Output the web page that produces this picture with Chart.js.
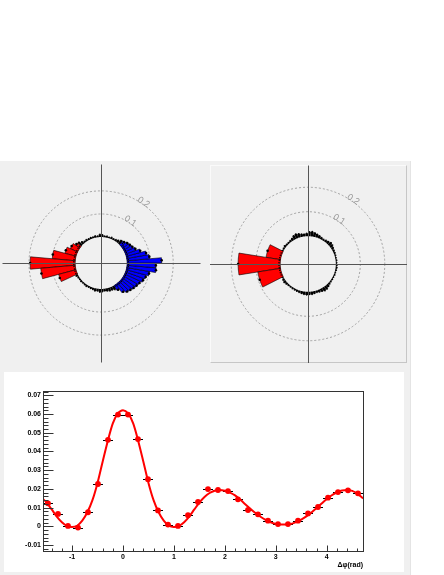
<!DOCTYPE html>
<html><head><meta charset="utf-8">
<script src="https://cdn.jsdelivr.net/npm/chart.js@4.4.0/dist/chart.umd.min.js"></script>
<style>
html,body{margin:0;padding:0;background:#fff;width:444px;height:575px;overflow:hidden;position:relative;font-family:"Liberation Sans",Arial,sans-serif}
.abs{position:absolute}
#bg{left:0;top:161px;width:410px;height:414px;background:#f0f0f0;border-right:1px solid #e4e4e4}
#rp{left:210px;top:165px;width:195px;height:196px;background:#f0f0f0;border:1px solid;border-color:#fafafa #c6c6c6 #c6c6c6 #fafafa}
#bp{left:4px;top:372px;width:400px;height:200px;background:#fff}
canvas{position:absolute}
</style></head><body>
<div id="bg" class="abs"></div>
<div id="rp" class="abs"></div>
<div id="bp" class="abs"></div>
<canvas id="c1" width="208" height="204" style="left:0;top:161px"></canvas>
<canvas id="c2" width="197" height="198" style="left:210px;top:165px"></canvas>
<canvas id="c3" width="400" height="200" style="left:4px;top:372px"></canvas>
<script>
// ---------------- DATA ----------------
// polar histograms: fine bins (5 deg), bin centres in degrees
const ringAngles = [2.5,7.5,12.5,17.5,22.5,27.5,32.5,37.5,42.5,47.5,52.5,57.5,62.5,67.5,72.5,77.5,82.5,87.5,92.5,97.5,102.5,107.5,112.5,117.5,122.5,127.5,132.5,137.5,142.5,147.5,152.5,157.5,162.5,167.5,172.5,177.5,182.5,187.5,192.5,197.5,202.5,207.5,212.5,217.5,222.5,227.5,232.5,237.5,242.5,247.5,252.5,257.5,262.5,267.5,272.5,277.5,282.5,287.5,292.5,297.5,302.5,307.5,312.5,317.5,322.5,327.5,332.5,337.5,342.5,347.5,352.5,357.5];
const leftRingValues = [0.006,0.006,0.006,0.006,0.006,0.006,0.006,0.008,0.012,0.020,0.012,0.008,0.006,0.008,0.005,0.007,0.006,0.010,0.012,0.006,0.008,0.006,0.007,0.006,0.008,0.007,0.012,0.020,0.006,0.006,0.006,0.006,0.006,0.006,0.006,0.006,0.006,0.006,0.006,0.006,0.006,0.010,0.006,0.005,0.007,0.005,0.006,0.008,0.006,0.007,0.008,0.012,0.010,0.014,0.012,0.010,0.012,0.015,0.014,0.018,0.006,0.006,0.006,0.006,0.006,0.006,0.006,0.006,0.006,0.006,0.006,0.006];
const leftRedAngles = [142.5,150,160,170,180,190,200];
const leftRedWidths = [5,10,10,10,10,10,10];
const leftRedValues = [0.022,0.035,0.050,0.100,0.195,0.150,0.078];
const leftBlueAngles = [302.5,307.5,312.5,317.5,322.5,327.5,332.5,337.5,342.5,347.5,352.5,357.5,2.5,7.5,12.5,17.5,22.5,27.5,32.5,37.5,42.5];
const leftBlueValues = [0.025,0.045,0.055,0.060,0.065,0.070,0.075,0.084,0.090,0.100,0.127,0.125,0.150,0.098,0.087,0.065,0.048,0.040,0.035,0.030,0.022];
const rightRingValues = [0.004,0.005,0.004,0.005,0.006,0.007,0.009,0.013,0.015,0.011,0.008,0.006,0.008,0.011,0.014,0.017,0.020,0.018,0.012,0.010,0.012,0.016,0.019,0.016,0.010,0.007,0.006,0.006,0.008,0.006,0.005,0.005,0.005,0.005,0.005,0.005,0.005,0.005,0.005,0.005,0.005,0.005,0.008,0.010,0.008,0.006,0.005,0.006,0.006,0.007,0.008,0.010,0.012,0.013,0.011,0.012,0.010,0.008,0.010,0.012,0.016,0.015,0.011,0.007,0.005,0.005,0.004,0.005,0.004,0.005,0.006,0.005];
const rightRedAngles = [162,180,198];
const rightRedWidths = [18,18,18];
const rightRedValues = [0.060,0.172,0.094];
const polarGridValues = [0.1,0.2];
const polarGridLabels = ['0.1','0.2'];

// correlation histogram (32 bins over [-pi/2, 3pi/2])
const dphiCenters = [-1.4726,-1.2763,-1.0799,-0.8836,-0.6872,-0.4909,-0.2945,-0.0982,0.0982,0.2945,0.4909,0.6872,0.8836,1.0799,1.2763,1.4726,1.6690,1.8653,2.0617,2.2580,2.4544,2.6507,2.8471,3.0434,3.2398,3.4361,3.6325,3.8288,4.0252,4.2215,4.4179,4.6142];
const corrValues = [0.0123,0.0066,0.0002,-0.0007,0.0075,0.0226,0.0462,0.0597,0.0597,0.0466,0.0252,0.0085,0.0009,0.0002,0.0059,0.0130,0.0199,0.0194,0.0188,0.0144,0.0087,0.0064,0.0030,0.0012,0.0012,0.0030,0.0069,0.0103,0.0153,0.0183,0.0192,0.0176];
const dphiHalfWidth = 0.0982;
// fitted curve
const fitX = [-1.5708,-1.5,-1.4,-1.3,-1.2,-1.1,-1.0,-0.9,-0.8,-0.7,-0.6,-0.5,-0.4,-0.3,-0.2,-0.1,0,0.1,0.2,0.3,0.4,0.5,0.6,0.7,0.8,0.9,1.0,1.1,1.2,1.3,1.4,1.5,1.6,1.7,1.8,1.9,2.0,2.1,2.2,2.3,2.4,2.5,2.6,2.7,2.8,2.9,3.0,3.1,3.2,3.3,3.4,3.5,3.6,3.7,3.8,3.9,4.0,4.1,4.2,4.3,4.4,4.5,4.6,4.7,4.7124];
const fitY = [0.0146,0.0127,0.0090,0.0052,0.0022,0.0002,-0.0004,0.0003,0.0030,0.0075,0.0140,0.0232,0.0345,0.0455,0.0550,0.0603,0.0620,0.0603,0.0550,0.0455,0.0345,0.0232,0.0140,0.0075,0.0030,0.0003,-0.0004,0.0002,0.0022,0.0052,0.0090,0.0127,0.0157,0.0178,0.0190,0.0194,0.0190,0.0180,0.0165,0.0143,0.0118,0.0094,0.0071,0.0051,0.0034,0.0021,0.0013,0.0010,0.0010,0.0013,0.0022,0.0036,0.0053,0.0074,0.0098,0.0122,0.0146,0.0166,0.0182,0.0191,0.0194,0.0189,0.0175,0.0152,0.0149];

// ---------------- POLAR CHARTS ----------------
const FONT = '"Liberation Sans", Arial, sans-serif';
function polarChart(canvasId, opt) {
  const k = opt.pxPerUnit, origin = opt.originPx / k;
  const rad = d => d * Math.PI / 180;
  const xy = (deg, r) => ({x: r * Math.cos(rad(deg)), y: r * Math.sin(rad(deg))});
  const series = [
    {angles: opt.ring.angles, values: opt.ring.values, widths: opt.ring.angles.map(() => opt.ring.width), color: '#000', stroke: false},
    ...opt.bars.map(b => ({angles: b.angles, values: b.values, widths: b.widths, color: b.color, stroke: true}))
  ];
  const datasets = series.map(s => ({
    data: s.angles.map((a, i) => xy(a, origin + s.values[i])), showLine: false,
    backgroundColor: '#000', borderColor: '#000',
    pointRadius: s.stroke ? 1.3 : 0.75, pointBackgroundColor: '#000', pointBorderWidth: 0
  }));
  const polarDeco = {
    id: 'polarDeco',
    beforeDatasetsDraw(chart) {
      const {ctx, scales: {x, y}} = chart;
      const cx = x.getPixelForValue(0), cy = y.getPixelForValue(0);
      ctx.save();
      ctx.strokeStyle = '#9a9a9a'; ctx.lineWidth = 0.9; ctx.setLineDash([2, 2]);
      polarGridValues.forEach((g, i) => {
        const r = x.getPixelForValue(origin + g) - cx;
        ctx.beginPath(); ctx.arc(cx, cy, r, 0, Math.PI * 2); ctx.stroke();
        const a = rad(opt.labelAngle);
        ctx.save();
        ctx.translate(cx + (r + 2) * Math.cos(a), cy - (r + 2) * Math.sin(a));
        ctx.rotate(rad(33));
        ctx.fillStyle = '#999'; ctx.font = '9px ' + FONT;
        ctx.textAlign = 'center'; ctx.textBaseline = 'middle';
        ctx.fillText(polarGridLabels[i], 0, 0);
        ctx.restore();
      });
      ctx.setLineDash([]);
      const P = (deg, r) => { const p = xy(deg, r); return [x.getPixelForValue(p.x), y.getPixelForValue(p.y)]; };
      series.forEach(s => {
        s.angles.forEach((c, i) => {
          const w = s.widths[i], a0 = c - w / 2, a1 = c + w / 2, n = Math.max(3, Math.ceil(w));
          ctx.beginPath();
          for (let j = 0; j <= n; j++) { const q = P(a0 + (a1 - a0) * j / n, origin); j ? ctx.lineTo(q[0], q[1]) : ctx.moveTo(q[0], q[1]); }
          for (let j = n; j >= 0; j--) { const q = P(a0 + (a1 - a0) * j / n, origin + s.values[i]); ctx.lineTo(q[0], q[1]); }
          ctx.closePath();
          ctx.fillStyle = s.color; ctx.fill();
          if (s.stroke) { ctx.strokeStyle = '#000'; ctx.lineWidth = 0.6; ctx.stroke(); }
        });
      });
      ctx.restore();
    },
    afterDatasetsDraw(chart) {
      const {ctx, scales: {x, y}} = chart;
      const cx = Math.round(x.getPixelForValue(0)) + 0.5, cy = Math.round(y.getPixelForValue(0)) + 0.5;
      const h = opt.axisHalfPx;
      ctx.save(); ctx.strokeStyle = '#555'; ctx.lineWidth = 1;
      ctx.beginPath();
      ctx.moveTo(cx - h, cy); ctx.lineTo(cx + h, cy);
      ctx.moveTo(cx, cy - h); ctx.lineTo(cx, cy + h);
      ctx.stroke(); ctx.restore();
    }
  };
  const c = document.getElementById(canvasId);
  return new Chart(c, {
    type: 'scatter',
    data: {datasets},
    options: {
      responsive: false, animation: false, events: [],
      layout: {padding: 0},
      plugins: {legend: {display: false}, tooltip: {enabled: false}},
      scales: {
        x: {type: 'linear', display: false, min: -opt.cx / k, max: (c.width - opt.cx) / k},
        y: {type: 'linear', display: false, min: -(c.height - opt.cy) / k, max: opt.cy / k}
      }
    },
    plugins: [polarDeco]
  });
}

polarChart('c1', {
  pxPerUnit: 240, originPx: 27, cx: 101, cy: 102, axisHalfPx: 99, labelAngle: 55,
  ring: {angles: ringAngles, values: leftRingValues, width: 5},
  bars: [
    {angles: leftRedAngles, values: leftRedValues, widths: leftRedWidths, color: '#ff0000'},
    {angles: leftBlueAngles, values: leftBlueValues, widths: leftBlueAngles.map(() => 5), color: '#0000ff'}
  ]
});
polarChart('c2', {
  pxPerUnit: 255, originPx: 29, cx: 98, cy: 99, axisHalfPx: 99, labelAngle: 55,
  ring: {angles: ringAngles, values: rightRingValues, width: 5},
  bars: [
    {angles: rightRedAngles, values: rightRedValues, widths: rightRedWidths, color: '#ff0000'}
  ]
});

// ---------------- CORRELATION CHART ----------------
const tickFont = {family: FONT, size: 7, weight: 'bold'};
const rootFrame = {
  id: 'rootFrame',
  beforeDatasetsDraw(chart) {
    const {ctx, scales: {x, y}} = chart;
    ctx.save(); ctx.strokeStyle = '#000'; ctx.lineWidth = 1;
    ctx.beginPath();
    dphiCenters.forEach((c, i) => {
      const py = Math.round(y.getPixelForValue(corrValues[i])) + 0.5;
      ctx.moveTo(x.getPixelForValue(c - dphiHalfWidth), py);
      ctx.lineTo(x.getPixelForValue(c + dphiHalfWidth), py);
    });
    ctx.stroke(); ctx.restore();
  },
  afterDatasetsDraw(chart) {
    const {ctx, chartArea: a, scales: {x, y}} = chart;
    ctx.save(); ctx.strokeStyle = '#333'; ctx.lineWidth = 1;
    const L = Math.round(a.left) + 0.5, T = Math.round(a.top) + 0.5, R = Math.round(a.right) + 0.5, B = Math.round(a.bottom) + 0.5;
    ctx.strokeRect(L, T, R - L, B - T);
    ctx.beginPath();
    for (let k = Math.ceil(y.min / 0.002 - 1e-6); k * 0.002 <= y.max + 1e-9; k++) {
      const py = Math.round(y.getPixelForValue(k * 0.002)) + 0.5;
      const len = (k % 5 === 0) ? 10 : 5;
      ctx.moveTo(L, py); ctx.lineTo(L + len, py);
    }
    for (let k = Math.ceil(x.min / 0.2 - 1e-6); k * 0.2 <= x.max + 1e-9; k++) {
      const px = Math.round(x.getPixelForValue(k * 0.2)) + 0.5;
      const len = (k % 5 === 0) ? 6 : 3;
      ctx.moveTo(px, B); ctx.lineTo(px, B - len);
    }
    ctx.stroke(); ctx.restore();
  }
};
new Chart(document.getElementById('c3'), {
  type: 'line',
  data: {datasets: [
    {label: 'data', data: dphiCenters.map((x, i) => ({x, y: corrValues[i]})), showLine: false,
     pointRadius: 2.9, pointBackgroundColor: '#ff0000', pointBorderWidth: 0, order: 1},
    {label: 'fit', data: fitX.map((x, i) => ({x, y: fitY[i]})), borderColor: '#ff0000', borderWidth: 2,
     pointRadius: 0, cubicInterpolationMode: 'monotone', fill: false, order: 2}
  ]},
  options: {
    responsive: false, animation: false, events: [],
    layout: {padding: {left: 0, top: 19, right: 41, bottom: 0}},
    plugins: {legend: {display: false}, tooltip: {enabled: false}},
    scales: {
      x: {type: 'linear', min: -1.5708, max: 4.7124,
          grid: {display: false, drawTicks: false}, border: {display: false},
          ticks: {stepSize: 1, includeBounds: false, padding: 2, color: '#000', font: tickFont,
                  maxRotation: 0, autoSkip: false, callback: v => String(v)},
          title: {display: true, text: 'Δφ(rad)', align: 'end', color: '#000',
                  font: {family: FONT, size: 7, weight: 'bold'}, padding: {top: 0, bottom: 3}},
          afterFit(s) { s.height = 21; }},
      y: {type: 'linear', min: -0.0132, max: 0.0723,
          grid: {display: false, drawTicks: false}, border: {display: false},
          ticks: {stepSize: 0.01, includeBounds: false, padding: 2, color: '#000', font: tickFont,
                  autoSkip: false, callback: v => String(Math.round(v * 100) / 100)},
          afterFit(s) { s.width = 39; }}
    }
  },
  plugins: [rootFrame]
});
</script>
</body></html>
